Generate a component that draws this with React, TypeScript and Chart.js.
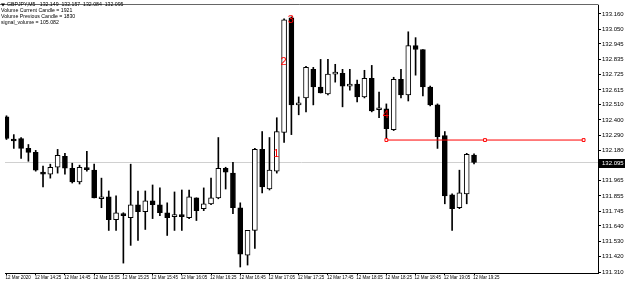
import React, { useEffect, useRef } from 'react';
import { Chart, registerables } from 'chart.js';

Chart.register(...registerables);

const FONT = '"Liberation Sans", Arial, sans-serif';

const symbolTitle = 'GBPJPY,M5';
const infoLines = [
  'Volume Current Candle = 1921',
  'Volume Previous Candle = 1830',
  'signal_volume = 105.082',
];

const timeLabels = [
  '12 Mar 2020', '12 Mar 14:25', '12 Mar 14:45', '12 Mar 15:05', '12 Mar 15:25',
  '12 Mar 15:45', '12 Mar 16:05', '12 Mar 16:25', '12 Mar 16:45', '12 Mar 17:05',
  '12 Mar 17:25', '12 Mar 17:45', '12 Mar 18:05', '12 Mar 18:25', '12 Mar 18:45',
  '12 Mar 19:05', '12 Mar 19:25',
];
const timeTickIdx = [0, 4, 8, 12, 16, 20, 24, 28, 32, 36, 40, 44, 48, 52, 56, 60, 64];

const priceTicks = [
  133.160, 133.050, 132.945, 132.835, 132.725, 132.615, 132.510, 132.400, 132.290,
  132.180, 132.070, 131.965, 131.855, 131.745, 131.640, 131.530, 131.420, 131.310,
];

const opens = [
  132.423, 132.253, 132.267, 132.196, 132.168, 132.026, 132.012, 132.061, 132.139, 132.054,
  131.955, 132.047, 132.040, 131.835, 131.849, 131.686, 131.728, 131.700, 131.792, 131.742,
  131.820, 131.792, 131.735, 131.707, 131.721, 131.700, 131.842, 131.764, 131.799, 131.842,
  132.054, 132.019, 131.771, 131.431, 131.608, 132.189, 131.905, 132.033, 132.310, 133.132,
  132.508, 132.558, 132.763, 132.636, 132.586, 132.728, 132.735, 132.643, 132.657, 132.565,
  132.699, 132.473, 132.480, 132.331, 132.692, 132.579, 132.933, 132.905, 132.636, 132.508,
  132.288, 131.863, 131.771, 131.870, 132.149,
];
const highs = [
  132.430, 132.295, 132.274, 132.224, 132.182, 132.069, 132.083, 132.189, 132.161, 132.090,
  132.076, 132.175, 132.083, 131.983, 131.891, 131.856, 131.735, 132.083, 131.891, 131.891,
  131.934, 131.913, 131.806, 131.884, 131.898, 131.898, 131.842, 131.913, 131.983, 132.274,
  132.061, 132.097, 131.806, 131.608, 132.196, 132.317, 132.274, 132.416, 133.125, 133.139,
  132.565, 132.784, 132.777, 132.834, 132.834, 132.799, 132.763, 132.763, 132.685, 132.756,
  132.791, 132.600, 132.515, 132.706, 132.763, 133.032, 132.990, 132.905, 132.643, 132.515,
  132.317, 131.870, 132.040, 132.161, 132.157,
];
const lows = [
  132.260, 132.196, 132.125, 132.104, 132.033, 131.920, 131.983, 132.019, 132.012, 131.948,
  131.941, 132.033, 131.842, 131.771, 131.608, 131.608, 131.374, 131.501, 131.537, 131.615,
  131.693, 131.714, 131.572, 131.608, 131.608, 131.693, 131.679, 131.750, 131.792, 131.835,
  131.905, 131.728, 131.346, 131.360, 131.480, 131.877, 131.898, 132.019, 132.239, 132.295,
  132.437, 132.458, 132.508, 132.593, 132.579, 132.671, 132.494, 132.614, 132.529, 132.558,
  132.458, 132.416, 132.260, 132.324, 132.558, 132.536, 132.721, 132.572, 132.501, 132.196,
  131.799, 131.608, 131.764, 131.799, 132.084,
];
const closes = [
  132.267, 132.249, 132.196, 132.168, 132.040, 132.012, 132.061, 132.146, 132.054, 131.955,
  132.061, 132.044, 131.842, 131.849, 131.686, 131.735, 131.714, 131.792, 131.742, 131.820,
  131.792, 131.735, 131.700, 131.711, 131.707, 131.849, 131.750, 131.799, 131.842, 132.054,
  132.026, 131.771, 131.438, 131.608, 132.189, 131.920, 132.040, 132.317, 133.118, 132.508,
  132.522, 132.777, 132.636, 132.593, 132.728, 132.735, 132.643, 132.657, 132.565, 132.699,
  132.465, 132.487, 132.338, 132.692, 132.579, 132.933, 132.905, 132.636, 132.508, 132.281,
  131.856, 131.764, 131.877, 132.154, 132.095,
];

const bidPrice = 132.095;
const trendPrice = 132.256;
const trendIdx = [52, 65.5, 79];
const waveLabels = ['1', '2', '3', '4'];
const waveIdx = [37, 38, 39, 52];
const wavePrices = [132.161, 132.820, 133.118, 132.437];

const overlayPlugin = {
  id: 'mtOverlay',
  afterDatasetsDraw(chart: any) {
    const { ctx, scales } = chart;
    const x = scales.x, y = scales.y;
    ctx.save();
    ctx.fillStyle = '#ff0000';
    ctx.font = `11px ${FONT}`;
    ctx.textAlign = 'center';
    ctx.textBaseline = 'middle';
    waveLabels.forEach((t, i) => {
      ctx.fillText(t, x.getPixelForValue(waveIdx[i]) - 0.5, y.getPixelForValue(wavePrices[i]) + 0.5);
    });
    ctx.restore();
  },
  afterDraw(chart: any) {
    const { ctx, scales, chartArea } = chart;
    const y = scales.y;
    ctx.save();
    // chart frame top edge
    ctx.strokeStyle = '#666';
    ctx.lineWidth = 1;
    ctx.beginPath();
    ctx.moveTo(0, chartArea.top - 0.5);
    ctx.lineTo(chartArea.right + 0.5, chartArea.top - 0.5);
    ctx.stroke();
    // bid price box on the price axis
    const yy = Math.round(y.getPixelForValue(bidPrice));
    ctx.fillStyle = '#000';
    ctx.fillRect(chartArea.right + 1, yy - 4, 27, 9);
    ctx.fillStyle = '#fff';
    ctx.font = `6px ${FONT}`;
    ctx.textAlign = 'left';
    ctx.textBaseline = 'middle';
    ctx.fillText(bidPrice.toFixed(3), chartArea.right + 4, yy + 0.5);
    // header text
    ctx.fillStyle = '#000';
    ctx.font = `5.2px ${FONT}`;
    ctx.textBaseline = 'middle';
    const n = closes.length - 1;
    const head = `${symbolTitle}   ${opens[n].toFixed(3)}  ${highs[n].toFixed(3)}  ${lows[n].toFixed(3)}  ${closes[n].toFixed(3)}`;
    ctx.beginPath();
    ctx.moveTo(1, 3.5); ctx.lineTo(5, 3.5); ctx.lineTo(3, 6.5); ctx.closePath();
    ctx.fill();
    ctx.fillText(head, 7, 5);
    infoLines.forEach((t, i) => ctx.fillText(t, 1, 11 + i * 6));
    ctx.restore();
  },
};

export default function App() {
  const ref = useRef<HTMLCanvasElement | null>(null);

  useEffect(() => {
    document.body.style.margin = '0';
    const canvas = ref.current;
    if (!canvas) return;
    const idx = closes.map((_, i) => i);
    const chart = new Chart(canvas, {
      type: 'bar',
      data: {
        datasets: [
          {
            type: 'line',
            data: [{ x: -1, y: bidPrice }, { x: 82, y: bidPrice }],
            borderColor: '#d0d0d0',
            borderWidth: 1,
            pointRadius: 0,
            order: 5,
          } as any,
          {
            type: 'bar',
            data: idx.map((i) => ({ x: i, y: [lows[i], highs[i]] })),
            backgroundColor: '#000',
            borderWidth: 0,
            barThickness: 1,
            grouped: false,
            order: 3,
          } as any,
          {
            type: 'bar',
            data: idx.map((i) => ({ x: i, y: [opens[i], closes[i]] })),
            backgroundColor: idx.map((i) => (closes[i] > opens[i] ? '#ffffff' : '#000000')),
            borderColor: '#000',
            borderWidth: 1,
            borderSkipped: false,
            barThickness: 5,
            minBarLength: 2,
            grouped: false,
            order: 2,
          } as any,
          {
            type: 'line',
            data: trendIdx.map((v) => ({ x: v, y: trendPrice })),
            borderColor: '#ff0000',
            borderWidth: 1,
            pointStyle: 'rect',
            pointRadius: 2,
            pointBorderColor: '#ff0000',
            pointBackgroundColor: '#ffffff',
            pointBorderWidth: 1,
            order: 1,
          } as any,
        ],
      },
      options: {
        animation: false,
        responsive: false,
        devicePixelRatio: 1,
        events: [],
        layout: { padding: { top: 2, left: 0, right: 0, bottom: 0 } },
        plugins: { legend: { display: false }, tooltip: { enabled: false } },
        scales: {
          x: {
            type: 'linear',
            min: -0.2036,
            max: 80.97,
            offset: false,
            afterBuildTicks: (s: any) => {
              s.ticks = timeTickIdx.map((v) => ({ value: v }));
            },
            afterFit: (s: any) => {
              s.height = 8;
            },
            ticks: {
              autoSkip: false,
              maxRotation: 0,
              minRotation: 0,
              align: 'start',
              labelOffset: -1,
              padding: 0,
              color: '#000',
              font: { size: 4.5, family: FONT },
              callback: (_v: any, i: number) => timeLabels[i],
            },
            grid: { offset: false, drawOnChartArea: false, drawTicks: true, tickLength: 2, color: '#000' },
            border: { display: true, color: '#000' },
          },
          y: {
            type: 'linear',
            position: 'right',
            min: 131.303,
            max: 133.224,
            bounds: 'data',
            beginAtZero: false,
            afterBuildTicks: (s: any) => {
              s.ticks = priceTicks.map((v) => ({ value: v }));
            },
            afterFit: (s: any) => {
              s.width = 27;
            },
            ticks: {
              autoSkip: false,
              padding: 1,
              crossAlign: 'near',
              color: '#000',
              font: { size: 6, family: FONT },
              callback: (v: any) => Number(v).toFixed(3),
            },
            grid: { drawOnChartArea: false, drawTicks: true, tickLength: 3, color: '#000' },
            border: { display: true, color: '#000' },
          },
        },
      } as any,
      plugins: [overlayPlugin],
    });
    return () => chart.destroy();
  }, []);

  return (
    <div style={{ width: 625, height: 281, background: '#fff' }}>
      <canvas ref={ref} width={625} height={281} style={{ display: 'block' }} />
    </div>
  );
}
